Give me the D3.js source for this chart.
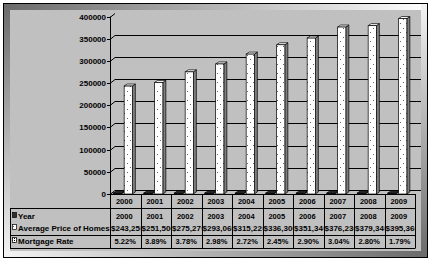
<!DOCTYPE html>
<html>
<head>
<meta charset="utf-8">
<script src="https://cdn.jsdelivr.net/npm/d3@7"></script>
<style>
  body { margin: 0; background: #fff; }
  svg text { font-family: "Liberation Sans", Arial, sans-serif; font-weight: bold; fill: #000; }
</style>
</head>
<body>
<div id="chart"></div>
<script>
var years = ['2000', '2001', '2002', '2003', '2004', '2005', '2006', '2007', '2008', '2009'];
var yearValues = [2000, 2001, 2002, 2003, 2004, 2005, 2006, 2007, 2008, 2009];
var priceValues = [243250, 251500, 275270, 293060, 315220, 336300, 351340, 376230, 379340, 395360];
var mortgageRates = [5.22, 3.89, 3.78, 2.98, 2.72, 2.45, 2.90, 3.04, 2.80, 1.79];
var seriesNames = ['Year', 'Average Price of Homes', 'Mortgage Rate'];
var yTicks = [0, 50000, 100000, 150000, 200000, 250000, 300000, 350000, 400000];

var W = 431, H = 261;
var svg = d3.select('#chart').append('svg')
  .attr('width', W).attr('height', H);
var defs = svg.append('defs');

function grad(id, x2, y2, c1, c2) {
  var g = defs.append('linearGradient').attr('id', id)
    .attr('x1', 0).attr('y1', 0).attr('x2', x2).attr('y2', y2);
  g.append('stop').attr('offset', 0).attr('stop-color', c1);
  g.append('stop').attr('offset', 1).attr('stop-color', c2);
}
grad('gTop', 1, 0, '#6a6a6a', '#ffffff');
grad('gLeft', 0, 1, '#6a6a6a', '#f4f4f4');
grad('gBottom', 1, 0, '#f4f4f4', '#6a6a6a');
grad('gRight', 0, 1, '#f4f4f4', '#6a6a6a');

// sparse dotted fill used by the price bars
var dots = defs.append('pattern').attr('id', 'dots')
  .attr('width', 6).attr('height', 9).attr('patternUnits', 'userSpaceOnUse');
dots.append('rect').attr('width', 6).attr('height', 9).attr('fill', '#fff');
dots.append('rect').attr('x', 1).attr('y', 1).attr('width', 1).attr('height', 1).attr('fill', '#666');
dots.append('rect').attr('x', 4).attr('y', 5).attr('width', 1).attr('height', 1).attr('fill', '#666');

var hatch = defs.append('pattern').attr('id', 'hatch')
  .attr('width', 2).attr('height', 2).attr('patternUnits', 'userSpaceOnUse');
hatch.append('rect').attr('width', 2).attr('height', 2).attr('fill', '#fff');
hatch.append('rect').attr('width', 1).attr('height', 1).attr('fill', '#000');

// frame
svg.append('rect').attr('x', 3).attr('y', 3).attr('width', 424).attr('height', 255).attr('fill', '#c0c0c0');
svg.append('rect').attr('x', 3).attr('y', 3).attr('width', 424).attr('height', 7).attr('fill', 'url(#gTop)');
svg.append('rect').attr('x', 3).attr('y', 3).attr('width', 7).attr('height', 255).attr('fill', 'url(#gLeft)');
svg.append('rect').attr('x', 3).attr('y', 251).attr('width', 424).attr('height', 7).attr('fill', 'url(#gBottom)');
svg.append('rect').attr('x', 421).attr('y', 3).attr('width', 7).attr('height', 255).attr('fill', 'url(#gRight)');
svg.append('rect').attr('x', 10).attr('y', 10).attr('width', 411).attr('height', 241).attr('fill', '#c0c0c0');
svg.append('rect').attr('x', 3.5).attr('y', 3.5).attr('width', 424).attr('height', 254)
  .attr('fill', 'none').attr('stroke', '#000');

var dx = 5, dy = 4;       // wall depth
var bdx = 3, bdy = 2;     // bar depth
var left = 110, right = 415;
var floorY = 194;

var x = d3.scaleBand().domain(years).range([left, right]);
var xs = d3.scaleBand().domain(seriesNames).range([-12, 18]).paddingInner(0.25);
var y = d3.scaleLinear().domain([0, 400000]).range([floorY, 16.5]);

// gridlines on the back wall
var grid = svg.append('g').attr('stroke', '#000').attr('stroke-width', 1);
yTicks.forEach(function(t) {
  var yy = Math.round(y(t)) + 0.5;
  grid.append('line').attr('x1', left - 3).attr('x2', left).attr('y1', yy).attr('y2', yy);
  grid.append('line').attr('x1', left).attr('x2', left + dx).attr('y1', yy).attr('y2', yy - dy);
  if (t < 400000) {
    grid.append('line').attr('x1', left + dx).attr('x2', 421).attr('y1', yy - dy).attr('y2', yy - dy);
  }
});
svg.append('line').attr('x1', left + 0.5).attr('x2', left + 0.5)
  .attr('y1', y(400000)).attr('y2', 248).attr('stroke', '#000');

svg.append('g').selectAll('text').data(yTicks).enter().append('text')
  .attr('x', 106).attr('y', function(d) { return y(d) + 3; })
  .attr('text-anchor', 'end').attr('font-size', 8)
  .text(function(d) { return d; });

function barPaths(g, data, series, fill, topFill, sideFill) {
  var w = xs.bandwidth();
  var bx = function(d, i) { return x(years[i]) + x.bandwidth() / 2 + xs(series); };
  g.selectAll('path.side').data(data).enter().append('path')
    .attr('d', function(d, i) {
      var x0 = bx(d, i) + w, yt = y(d);
      return 'M' + x0 + ',' + yt + 'L' + (x0 + bdx) + ',' + (yt - bdy) + 'L' + (x0 + bdx) + ',' + (floorY - bdy) + 'L' + x0 + ',' + floorY + 'Z';
    })
    .attr('fill', sideFill).attr('stroke', '#000').attr('stroke-width', 0.7);
  g.selectAll('path.top').data(data).enter().append('path')
    .attr('d', function(d, i) {
      var x0 = bx(d, i), yt = y(d);
      return 'M' + x0 + ',' + yt + 'L' + (x0 + bdx) + ',' + (yt - bdy) + 'L' + (x0 + w + bdx) + ',' + (yt - bdy) + 'L' + (x0 + w) + ',' + yt + 'Z';
    })
    .attr('fill', topFill).attr('stroke', '#000').attr('stroke-width', 0.7);
  g.selectAll('rect').data(data).enter().append('rect')
    .attr('x', function(d, i) { return bx(d, i); })
    .attr('y', function(d) { return y(d); })
    .attr('width', w)
    .attr('height', function(d) { return floorY - y(d); })
    .attr('fill', fill).attr('stroke', '#000').attr('stroke-width', 0.7);
}

barPaths(svg.append('g'), yearValues, 'Year', '#404040', '#404040', '#303030');
barPaths(svg.append('g'), priceValues, 'Average Price of Homes', 'url(#dots)', '#ffffff', '#808080');

// data table
var tbl = svg.append('g').attr('stroke', '#000').attr('stroke-width', 1);
[floorY, 208, 235, 248].forEach(function(yy, i) {
  tbl.append('line').attr('x1', i === 0 ? left : 10).attr('x2', right)
    .attr('y1', yy + 0.5).attr('y2', yy + 0.5);
});
tbl.append('line').attr('x1', 10.5).attr('x2', 10.5).attr('y1', 208).attr('y2', 248.5);
years.forEach(function(yr) {
  var xx = Math.round(x(yr) + x.bandwidth()) + 0.5;
  tbl.append('line').attr('x1', xx).attr('x2', xx).attr('y1', floorY).attr('y2', 248.5);
});

years.forEach(function(yr, i) {
  var cx = x(yr) + x.bandwidth() / 2 - 1;
  svg.append('text').attr('x', cx).attr('y', 204).attr('text-anchor', 'middle')
    .attr('font-size', 7.5).text(yr);
  svg.append('text').attr('x', cx).attr('y', 219).attr('text-anchor', 'middle')
    .attr('font-size', 7.5).text(yearValues[i]);
  var cp = defs.append('clipPath').attr('id', 'cell' + i);
  cp.append('rect').attr('x', x(yr) + 1).attr('y', 222).attr('width', x.bandwidth() - 1).attr('height', 12);
  svg.append('text').attr('x', x(yr) + 1).attr('y', 231).attr('font-size', 8)
    .attr('clip-path', 'url(#cell' + i + ')')
    .text(d3.format('$,')(priceValues[i]));
  svg.append('text').attr('x', cx + 1).attr('y', 244).attr('text-anchor', 'middle')
    .attr('font-size', 7.5).text(mortgageRates[i].toFixed(2) + '%');
});

var rowY = [219, 231, 244];
var keyFill = ['#303030', 'url(#dots)', 'url(#hatch)'];
seriesNames.forEach(function(s, i) {
  svg.append('rect').attr('x', 12.5).attr('y', rowY[i] - 6.5).attr('width', 4).attr('height', 5)
    .attr('fill', keyFill[i]).attr('stroke', '#000').attr('stroke-width', 0.7);
  svg.append('text').attr('x', 18).attr('y', rowY[i]).attr('font-size', 8).text(s);
});
</script>
</body>
</html>
